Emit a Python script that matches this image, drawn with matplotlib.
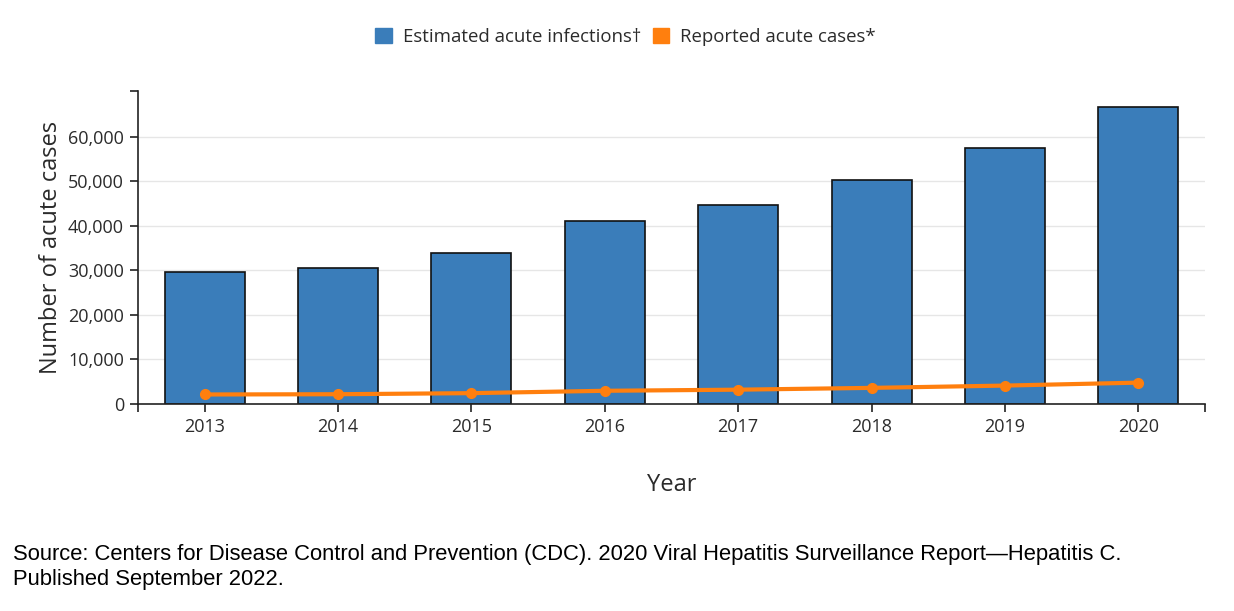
import numpy as np
from matplotlib import pyplot as plt
from matplotlib.patches import Patch
from matplotlib.ticker import FuncFormatter

years = ['2013', '2014', '2015', '2016', '2017', '2018', '2019', '2020']
estimated = [29700, 30500, 33900, 41200, 44700, 50300, 57500, 66700]
reported = [2138, 2194, 2436, 2967, 3216, 3621, 4136, 4798]
y_ticks = [0, 10000, 20000, 30000, 40000, 50000, 60000]

BLUE = '#3a7dba'
ORANGE = '#ff7f0e'
TXT = '#2b2b2b'

plt.rcParams['font.family'] = ['Open Sans', 'DejaVu Sans']

fig = plt.figure(figsize=(12.34, 6.11), dpi=100)
ax = fig.add_axes([0.1118, 0.3388, 0.8647, 0.5122])

x = np.arange(len(years))
ax.bar(x, estimated, width=0.6, color=BLUE, edgecolor='#111111',
       linewidth=1.2, zorder=2)
ax.plot(x, reported, color=ORANGE, linewidth=3, marker='o',
        markersize=7, zorder=3)

ax.set_xlim(-0.5, len(years) - 0.5)
ax.set_ylim(0, 70300)
ax.set_xticks(x)
ax.set_xticklabels(years)
ax.set_yticks(y_ticks)
ax.yaxis.set_major_formatter(FuncFormatter(lambda v, p: f'{int(v):,}'))
# d3-style outer ticks at domain ends
ax.set_xticks([-0.5, len(years) - 0.5], minor=True)
ax.set_yticks([70300], minor=True)

ax.grid(axis='y', color='#e6e6e6', linewidth=1, zorder=0)
ax.set_axisbelow(True)
for s in ['top', 'right']:
    ax.spines[s].set_visible(False)
for s in ['left', 'bottom']:
    ax.spines[s].set_color('#222222')
    ax.spines[s].set_linewidth(1.2)

ax.tick_params(which='both', direction='out', length=6, width=1.2,
               color='#222222', labelsize=13, labelcolor=TXT, pad=4)

ax.set_xlabel('Year', fontsize=17, color=TXT, labelpad=27)
ax.set_ylabel('Number of acute cases', fontsize=17, color=TXT, labelpad=4)

handles = [Patch(facecolor=BLUE, edgecolor=BLUE),
           Patch(facecolor=ORANGE, edgecolor=ORANGE)]
fig.legend(handles, ['Estimated acute infections\u2020', 'Reported acute cases*'],
           loc='center', bbox_to_anchor=(0.507, 0.94), ncol=2, frameon=False,
           fontsize=13.4, handlelength=0.9, handleheight=0.9, handletextpad=0.6,
           columnspacing=0.6, labelcolor=TXT)

fig.text(0.0105, 0.109,
         'Source: Centers for Disease Control and Prevention (CDC). 2020 Viral Hepatitis Surveillance Report\u2014Hepatitis C.\nPublished September 2022.',
         fontsize=15.8, family=['Liberation Sans', 'DejaVu Sans'], color='black',
         va='top', ha='left', linespacing=1.2)

plt.savefig('out.png', dpi=100)
